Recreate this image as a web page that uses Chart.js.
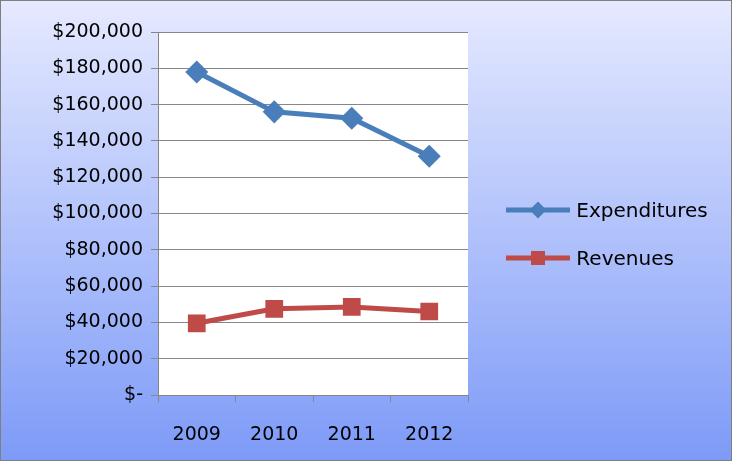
<!DOCTYPE html>
<html><head><meta charset="utf-8">
<script src="https://cdn.jsdelivr.net/npm/chart.js@4/dist/chart.umd.min.js"></script>
<style>
html,body{margin:0;padding:0;}
#wrap{position:relative;width:732px;height:461px;}
#legend{position:absolute;left:506px;top:186px;font-family:'DejaVu Sans',sans-serif;font-size:20px;color:#000;}
#legend div{display:flex;align-items:center;height:48px;}
</style></head><body>
<div id="wrap"><canvas id="c" width="732" height="461"></canvas>
<div id="legend">
<div><svg width="64" height="20"><line x1="0" y1="10" x2="64" y2="10" stroke="#4a7ebb" stroke-width="5"/><rect x="26" y="4" width="12" height="12" fill="#4a7ebb" transform="rotate(45 32 10)"/></svg>&nbsp;Expenditures</div>
<div><svg width="64" height="20"><line x1="0" y1="10" x2="64" y2="10" stroke="#be4b48" stroke-width="5"/><rect x="25" y="3" width="14" height="14" fill="#be4b48"/></svg>&nbsp;Revenues</div>
</div></div>
<script>
const years = ['2009', '2010', '2011', '2012'];
const expenditures = [178000, 156000, 152500, 131500];
const revenues = [39500, 47500, 48500, 46000];

const bg = {
  id: 'bg',
  beforeDraw(chart) {
    const ctx = chart.ctx, a = chart.chartArea;
    const g = ctx.createLinearGradient(0, 0, 0, 461);
    g.addColorStop(0, '#e6eaff');
    g.addColorStop(1, '#7d9af7');
    ctx.save();
    ctx.fillStyle = g;
    ctx.fillRect(0, 0, 732, 461);
    ctx.strokeStyle = '#7f7f7f';
    ctx.lineWidth = 1;
    ctx.strokeRect(0.5, 0.5, 731, 460);
    ctx.fillStyle = '#fff';
    ctx.fillRect(a.left, a.top, a.right - a.left, a.bottom - a.top);
    ctx.restore();
  }
};

const font = { family: "'DejaVu Sans', sans-serif", size: 19 };
new Chart(document.getElementById('c'), {
  type: 'line',
  data: {
    labels: years,
    datasets: [
      { label: 'Expenditures', data: expenditures, borderColor: '#4a7ebb', backgroundColor: '#4a7ebb',
        borderWidth: 5, pointStyle: 'rectRot', pointRadius: 8, tension: 0 },
      { label: 'Revenues', data: revenues, borderColor: '#be4b48', backgroundColor: '#be4b48',
        borderWidth: 5, pointStyle: 'rect', pointRadius: 9, tension: 0 }
    ]
  },
  plugins: [bg],
  options: {
    responsive: false, animation: false,
    layout: { padding: { top: 32, right: 264, left: 0, bottom: 0 } },
    plugins: { legend: { display: false }, tooltip: { enabled: false } },
    scales: {
      x: {
        offset: true,
        grid: { display: true, offset: true, drawOnChartArea: false, tickLength: 7, color: '#868686' },
        border: { color: '#868686' },
        ticks: { font, color: '#000', padding: 22 },
        afterFit: s => { s.height = 66; }
      },
      y: {
        min: 0, max: 200000,
        grid: { color: '#868686', tickLength: 7 },
        border: { color: '#868686' },
        ticks: { stepSize: 20000, font, color: '#000', padding: 8,
          callback: v => v === 0 ? '$-' : '$' + v.toLocaleString('en-US') },
        afterFit: s => { s.width = 158; }
      }
    }
  }
});
</script>
</body></html>
